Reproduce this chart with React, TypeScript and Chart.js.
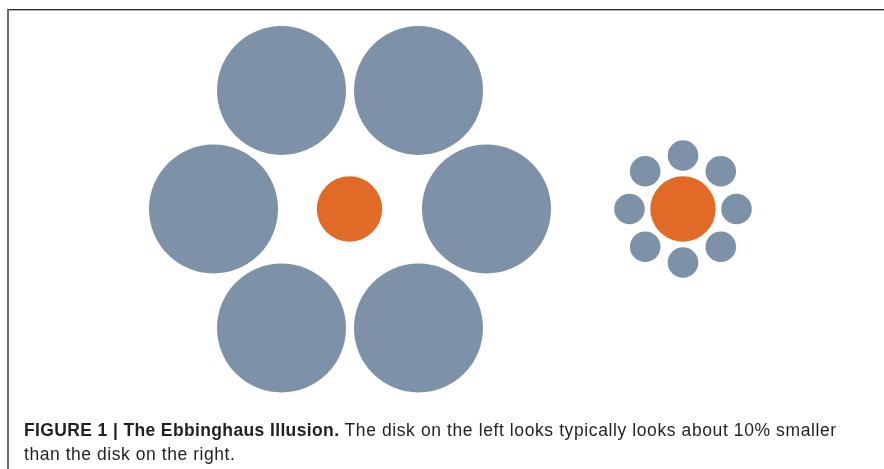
import React, { useEffect, useRef } from "react";
import { Chart, registerables } from "chart.js";

Chart.register(...registerables);

// Ebbinghaus figure data (layout units = figure coordinates)
const surroundLargeX = [281.5, 418.5, 213.5, 486.5, 281.5, 418.5];
const surroundLargeY = [90.5, 90.5, 209, 209, 328, 328];
const surroundLargeR = [64.5, 64.5, 64.5, 64.5, 64.5, 64.5];

const targetX = [349.5, 683];
const targetY = [209, 209];
const targetR = [32.7, 32.7];

const surroundSmallX = [683, 720.8, 736.5, 720.8, 683, 645.2, 629.5, 645.2];
const surroundSmallY = [155.5, 171.2, 209, 246.8, 262.5, 246.8, 209, 171.2];
const surroundSmallR = [15.3, 15.3, 15.3, 15.3, 15.3, 15.3, 15.3, 15.3];

const captionBold = "FIGURE 1 | The Ebbinghaus Illusion.";
const captionLine1 = " The disk on the left looks typically looks about 10% smaller";
const captionLine2 = "than the disk on the right.";

const BLUE = "#7d91a9";
const ORANGE = "#e06a26";

const W = 884;
const H = 469;

function toPoints(xs: number[], ys: number[], rs: number[]) {
  return xs.map((x, i) => ({ x, y: ys[i], r: rs[i] }));
}

export default function App() {
  const ref = useRef<HTMLCanvasElement | null>(null);

  useEffect(() => {
    if (!ref.current) return;
    const chart = new Chart(ref.current, {
      type: "bubble",
      data: {
        datasets: [
          {
            label: "large surround",
            data: toPoints(surroundLargeX, surroundLargeY, surroundLargeR),
            backgroundColor: BLUE,
            borderWidth: 0,
            hoverRadius: 0,
          },
          {
            label: "small surround",
            data: toPoints(surroundSmallX, surroundSmallY, surroundSmallR),
            backgroundColor: BLUE,
            borderWidth: 0,
            hoverRadius: 0,
          },
          {
            label: "target",
            data: toPoints(targetX, targetY, targetR),
            backgroundColor: ORANGE,
            borderWidth: 0,
            hoverRadius: 0,
          },
        ],
      },
      options: {
        responsive: false,
        animation: false,
        events: [],
        layout: { padding: 0, autoPadding: false },
        plugins: {
          legend: { display: false },
          tooltip: { enabled: false },
          title: { display: false },
        },
        scales: {
          x: { type: "linear", min: 0, max: W, display: false },
          y: { type: "linear", min: 0, max: H, reverse: true, display: false },
        },
      },
    });
    return () => chart.destroy();
  }, []);

  return (
    <div
      style={{
        position: "absolute",
        left: 0,
        top: 0,
        width: W,
        height: H,
        background: "#fff",
        overflow: "hidden",
      }}
    >
      <canvas ref={ref} width={W} height={H} style={{ position: "absolute", left: 0, top: 0 }} />
      <div
        style={{
          position: "absolute",
          left: 7,
          top: 9,
          width: W - 7,
          height: 1,
          background: "#2a2a2a",
        }}
      />
      <div
        style={{
          position: "absolute",
          left: 7,
          top: 10,
          width: W - 7,
          height: 1,
          background: "#b0b0b0",
        }}
      />
      <div
        style={{
          position: "absolute",
          left: 7,
          top: 9,
          width: 2,
          height: H - 9,
          background: "#6a6a6a",
        }}
      />
      <div
        style={{
          position: "absolute",
          left: 24,
          top: 418,
          width: 860,
          whiteSpace: "nowrap",
          fontFamily: "'Liberation Sans', Arial, sans-serif",
          fontSize: 17.5,
          letterSpacing: "0.6px",
          lineHeight: "24px",
          color: "#231f20",
        }}
      >
        <span style={{ fontWeight: "bold", letterSpacing: "0.37px" }}>{captionBold}</span>
        <span>{captionLine1}</span>
        <br />
        <span style={{ letterSpacing: "0.55px" }}>{captionLine2}</span>
      </div>
    </div>
  );
}
